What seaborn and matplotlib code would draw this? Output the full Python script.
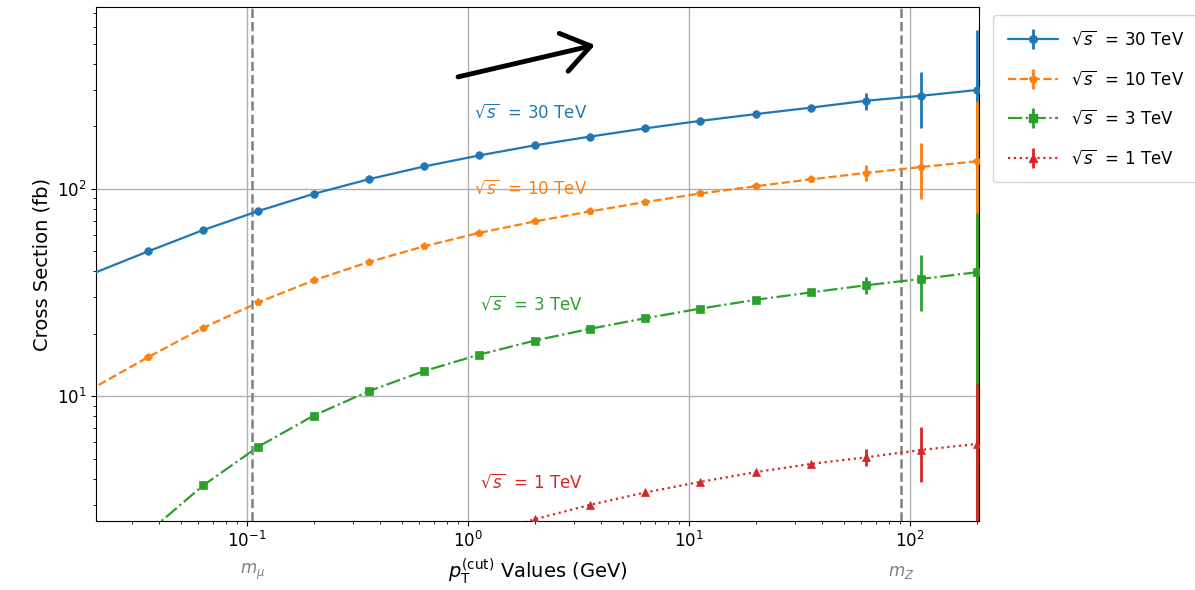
import numpy as np
import pandas as pd
import matplotlib
matplotlib.use("Agg")
import matplotlib.pyplot as plt
from matplotlib.lines import Line2D
from matplotlib.legend_handler import HandlerTuple
import seaborn as sns

# ---------------- data ----------------
pt_cut = [0.0112, 0.0356, 0.0632, 0.1125, 0.2, 0.356, 0.632, 1.125, 2.0,
          3.56, 6.32, 11.25, 20.0, 35.6, 63.2, 112.5, 200.0]

xs_30tev = [30.4, 49.8, 63.1, 78.0, 94.3, 111.0, 127.8, 144.5, 161.5,
            178.0, 195.0, 212.0, 228.5, 245.5, 265.0, 280.0, 298.5]
xs_10tev = [7.7, 15.4, 21.3, 28.3, 36.1, 44.3, 52.7, 61.2, 69.4,
            77.6, 86.1, 94.7, 102.6, 110.8, 119.0, 127.0, 135.4]
xs_3tev = [np.nan, 2.2, 3.71, 5.71, 8.05, 10.57, 13.2, 15.85, 18.5,
           21.1, 23.7, 26.4, 29.1, 31.6, 34.2, 36.7, 39.5]
xs_1tev = [np.nan, np.nan, np.nan, np.nan, np.nan, np.nan, np.nan, 2.12, 2.55,
           2.99, 3.43, 3.86, 4.30, 4.71, 5.07, 5.50, 5.88]

err_30tev = [0, 0, 0, 0, 0, 0, 0, 0, 0, 0, 0, 0, 0, 0, 25.0, 84.0, 280.0]
err_10tev = [0, 0, 0, 0, 0, 0, 0, 0, 0, 0, 0, 0, 0, 0, 10.5, 38.0, 129.0]
err_3tev = [0, 0, 0, 0, 0, 0, 0, 0, 0, 0, 0, 0, 0, 0, 3.1, 11.0, 37.0]
err_1tev = [0, 0, 0, 0, 0, 0, 0, 0, 0, 0, 0, 0, 0, 0, 0.47, 1.63, 5.6]

series_labels = [r"$\sqrt{s}$  = 30 TeV", r"$\sqrt{s}$  = 10 TeV",
                 r"$\sqrt{s}$  = 3 TeV", r"$\sqrt{s}$  = 1 TeV"]
label_pos_x = [1.06, 1.06, 1.13, 1.13]
label_pos_y = [234.0, 100.0, 27.6, 3.85]

m_mu = 0.10566
m_Z = 91.19

# ---------------- style ----------------
sns.set_style("ticks", rc={
    "axes.edgecolor": "black", "text.color": "black",
    "axes.labelcolor": "black", "xtick.color": "black",
    "ytick.color": "black", "axes.linewidth": 1.0,
})
plt.rcParams["font.family"] = ["DejaVu Sans"]

colors = ["#1f77b4", "#ff7f0e", "#2ca02c", "#d62728"]
linestyles = ["-", "--", "-.", ":"]
markers = ["o", "p", "s", "^"]
msizes = [5.5, 5.5, 5.5, 5.5]

fig = plt.figure(figsize=(11.95, 5.9), dpi=100)
ax = fig.add_axes([96 / 1195, 1 - 521 / 590, (979 - 96) / 1195, (521 - 7) / 590])
ax.set_xscale("log")
ax.set_yscale("log")

values = [xs_30tev, xs_10tev, xs_3tev, xs_1tev]
errors = [err_30tev, err_10tev, err_3tev, err_1tev]

handles = []
for i in range(4):
    df = pd.DataFrame({"pt": pt_cut, "xs": values[i], "err": errors[i]}).dropna()
    sns.lineplot(data=df, x="pt", y="xs", ax=ax, color=colors[i],
                 linestyle=linestyles[i], marker=markers[i], markersize=msizes[i],
                 markeredgecolor=colors[i], markeredgewidth=0.5, linewidth=1.6,
                 legend=False, sort=True, estimator=None, zorder=3)
    ax.errorbar(df["pt"], df["xs"], yerr=df["err"], fmt="none",
                ecolor=colors[i], elinewidth=2.0, capsize=0, zorder=3)
    h_line = Line2D([], [], color=colors[i], linestyle=linestyles[i],
                    marker=markers[i], markersize=msizes[i],
                    markeredgecolor=colors[i], linewidth=1.6)
    h_bar = Line2D([], [], color=colors[i], linestyle="none", marker="|",
                   markersize=15, markeredgewidth=2.0)
    handles.append((h_line, h_bar))
    ax.text(label_pos_x[i], label_pos_y[i], series_labels[i], color=colors[i],
            fontsize=12, ha="left", va="center")

ax.axvline(m_mu, color="gray", linestyle="--", linewidth=1.8, zorder=2.5)
ax.axvline(m_Z, color="gray", linestyle="--", linewidth=1.8, zorder=2.5)
ax.text(m_mu, -0.1, r"$m_\mu$", color="gray", fontsize=12, ha="center",
        va="center", transform=ax.get_xaxis_transform())
ax.text(m_Z, -0.1, r"$m_Z$", color="gray", fontsize=12, ha="center",
        va="center", transform=ax.get_xaxis_transform())

ax.grid(True, which="major", color="#b0b0b0", linewidth=1.0)
ax.set_xlim(0.0207, 205)
ax.set_ylim(2.5, 750)
ax.tick_params(axis="both", which="major", labelsize=12)

ax.set_xlabel(r"$p_\mathrm{T}^\mathrm{(cut)}$ Values (GeV)", fontsize=14, labelpad=4)
ax.set_ylabel("Cross Section (fb)", fontsize=14)

ax.annotate("", xy=(0.565, 0.926), xytext=(0.41, 0.864),
            xycoords="axes fraction", textcoords="axes fraction",
            arrowprops=dict(arrowstyle="->, head_length=1.0, head_width=0.7",
                            color="black", lw=3.5, mutation_scale=20,
                            shrinkA=0, shrinkB=0))

ax.legend(handles, series_labels, loc="upper left", bbox_to_anchor=(1.016, 0.984),
          fontsize=12, labelspacing=1.25, handlelength=3.0, borderaxespad=0.0,
          borderpad=0.9, handletextpad=0.8,
          handler_map={tuple: HandlerTuple(ndivide=1)}, framealpha=0.8)

fig.savefig("out.png", dpi=100)
